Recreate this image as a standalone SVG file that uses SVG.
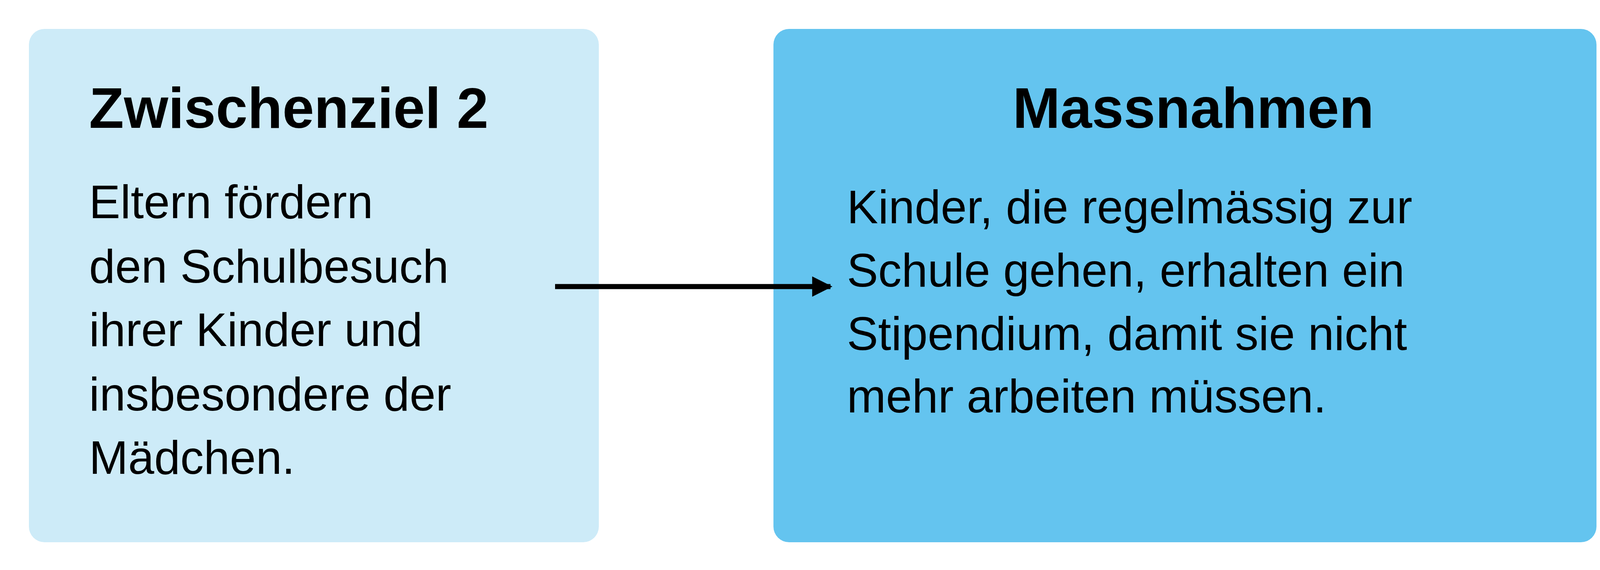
<svg xmlns="http://www.w3.org/2000/svg" width="4167" height="1458" viewBox="0 0 4167 1458">
<style>
.t{font-family:"Liberation Sans",Arial,sans-serif;font-weight:bold;font-size:146px;fill:#000}
.b{font-family:"Liberation Sans",Arial,sans-serif;font-size:120px;fill:#000}
</style>
<defs><marker id="ah" viewBox="0 0 10 10" refX="9" refY="5" markerWidth="4" markerHeight="4" orient="auto" markerUnits="strokeWidth"><path d="M0,0 L10,5 L0,10 z" fill="#000"/></marker></defs>
<rect width="4167" height="1458" fill="#fff"/>
<g id="node1">
<rect x="74" y="74" width="1459" height="1313" rx="40" fill="#CDEBF8"/>
<text class="t" x="228" y="327">Zwischenziel 2</text>
<text class="b" x="228" y="558">Eltern fördern</text>
<text class="b" x="228" y="723">den Schulbesuch</text>
<text class="b" x="228" y="885">ihrer Kinder und</text>
<text class="b" x="228" y="1050">insbesondere der</text>
<text class="b" x="228" y="1212">Mädchen.</text>
</g>
<g id="node2">
<rect x="1980" y="74" width="2107" height="1313" rx="40" fill="#64C4EF"/>
<text class="t" x="3055" y="327" text-anchor="middle">Massnahmen</text>
<text class="b" x="2168" y="571">Kinder, die regelmässig zur</text>
<text class="b" x="2168" y="733">Schule gehen, erhalten ein</text>
<text class="b" x="2168" y="895">Stipendium, damit sie nicht</text>
<text class="b" x="2168" y="1055">mehr arbeiten müssen.</text>
</g>
<g id="connectors">
<line x1="1421" y1="733" x2="2126" y2="733" stroke="#000" stroke-width="13" marker-end="url(#ah)"/>
</g>
</svg>
